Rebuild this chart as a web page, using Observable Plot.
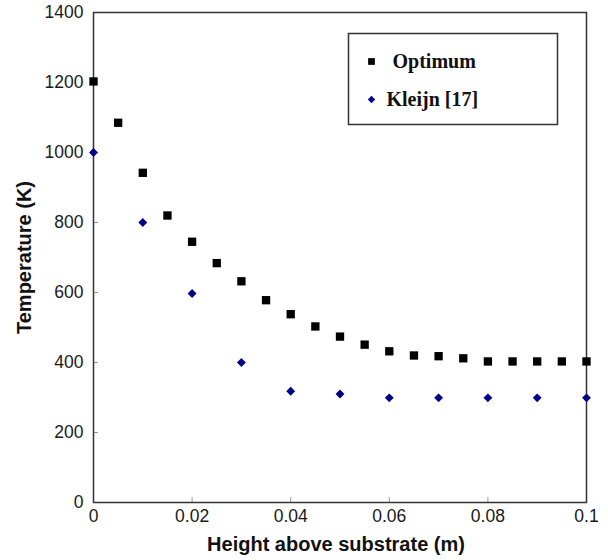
<!DOCTYPE html>
<html>
<head>
<meta charset="utf-8">
<script src="https://cdn.jsdelivr.net/npm/d3@7"></script>
<script src="https://cdn.jsdelivr.net/npm/@observablehq/plot@0.6"></script>
<style>
  html, body { margin: 0; padding: 0; background: #fff; }
</style>
</head>
<body>
<div id="chart"></div>
<script>
const optimumX = [0, 0.005, 0.01, 0.015, 0.02, 0.025, 0.03, 0.035, 0.04, 0.045, 0.05, 0.055, 0.06, 0.065, 0.07, 0.075, 0.08, 0.085, 0.09, 0.095, 0.1];
const optimumT = [1203, 1085, 942, 820, 745, 684, 632, 578, 538, 503, 474, 451, 432, 420, 418, 412, 403, 403, 403, 403, 403];
const kleijnX = [0, 0.01, 0.02, 0.03, 0.04, 0.05, 0.06, 0.07, 0.08, 0.09, 0.1];
const kleijnT = [1000, 800, 597, 400, 318, 310, 299, 299, 299, 299, 299];
const seriesNames = ["Optimum", "Kleijn [17]"];
const seriesColors = ["#000000", "#00008b"];
const xTicks = [0, 0.02, 0.04, 0.06, 0.08, 0.1];
const yTicks = [0, 200, 400, 600, 800, 1000, 1200, 1400];
const xLabel = "Height above substrate (m)";
const yLabel = "Temperature (K)";

const optimum = optimumX.map((x, i) => ({x, t: optimumT[i]}));
const kleijn = kleijnX.map((x, i) => ({x, t: kleijnT[i]}));

const W = 608, H = 560, mL = 93, mR = 22, mT = 12, mB = 58;
const innerW = W - mL - mR, innerH = H - mT - mB;
const serif = "'Liberation Serif', 'Times New Roman', serif";

const chart = Plot.plot({
  width: W, height: H,
  marginLeft: mL, marginRight: mR, marginTop: mT, marginBottom: mB,
  x: {domain: [0, 0.1]},
  y: {domain: [0, 1400]},
  style: {fontFamily: "'Liberation Sans', Arial, sans-serif", fontSize: "17.5px", color: "#1a1a1a", background: "#fff"},
  marks: [
    Plot.axisX(xTicks, {tickSize: 0, tickPadding: 7, tickFormat: d => String(d), label: null, fontSize: 17.5}),
    Plot.axisY(yTicks, {tickSize: 0, tickPadding: 10, tickFormat: d => String(d), label: null, fontSize: 17.5}),
    Plot.tickX(xTicks, {x: d => d, insetTop: innerH - 5, stroke: "#999"}),
    Plot.tickY(yTicks, {y: d => d, insetRight: innerW - 5, stroke: "#999"}),
    Plot.frame({stroke: "#333", strokeWidth: 1.5}),
    Plot.dot(optimum, {x: "x", y: "t", symbol: "square", fill: seriesColors[0], r: 4.7}),
    Plot.dot(kleijn, {x: "x", y: "t", symbol: "diamond2", fill: seriesColors[1], r: 4}),
    // legend
    Plot.frame({insetLeft: 255, insetRight: 29, insetTop: 21, insetBottom: 378, stroke: "#333", strokeWidth: 1.5, fill: "#fff"}),
    Plot.dot([seriesNames[0]], {frameAnchor: "top-left", dx: 278, dy: 49, symbol: "square", fill: seriesColors[0], r: 3.8}),
    Plot.dot([seriesNames[1]], {frameAnchor: "top-left", dx: 278, dy: 87, symbol: "diamond2", fill: seriesColors[1], r: 3.3}),
    Plot.text([seriesNames[0]], {frameAnchor: "top-left", dx: 299, dy: 49, text: d => d, textAnchor: "start", lineAnchor: "middle", fontFamily: serif, fontWeight: "bold", fontSize: 20, fill: "#111"}),
    Plot.text([seriesNames[1]], {frameAnchor: "top-left", dx: 293, dy: 87, text: d => d, textAnchor: "start", lineAnchor: "middle", fontFamily: serif, fontWeight: "bold", fontSize: 20, fill: "#111"}),
    // axis titles
    Plot.text([xLabel], {frameAnchor: "bottom", dx: -4, dy: 42, text: d => d, textAnchor: "middle", lineAnchor: "middle", fontWeight: "bold", fontSize: 20, fill: "#111"}),
    Plot.text([yLabel], {frameAnchor: "left", dx: -69, text: d => d, rotate: -90, textAnchor: "middle", lineAnchor: "middle", fontWeight: "bold", fontSize: 20, fill: "#111"})
  ]
});
document.getElementById("chart").appendChild(chart);
</script>
</body>
</html>
